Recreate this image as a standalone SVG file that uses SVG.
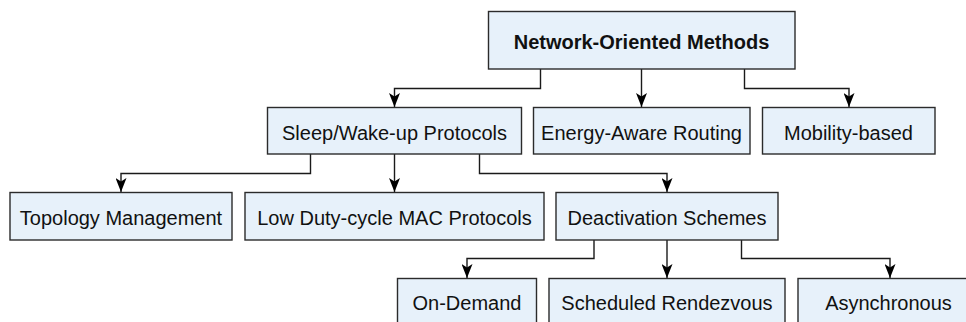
<svg xmlns="http://www.w3.org/2000/svg" width="966" height="322" viewBox="0 0 966 322">
  <defs>
    <style>
      .box { fill: #e7f1fa; stroke: #2b2b2b; stroke-width: 1.4; }
      .lbl { font-family: "Liberation Sans", Arial, sans-serif; font-size: 20px; fill: #111; text-anchor: middle; }
      .title { font-weight: bold; }
      .edge { fill: none; stroke: #1a1a1a; stroke-width: 1.4; marker-end: url(#arrow); }
    </style>
    <marker id="arrow" viewBox="0 0 14 11" refX="14" refY="5.5" markerWidth="14" markerHeight="11" markerUnits="userSpaceOnUse" orient="auto">
      <path d="M0,0 L14,5.5 L0,11 L3.5,5.5 Z" fill="#000"/>
    </marker>
  </defs>
  <rect width="966" height="322" fill="#ffffff"/>

  <!-- connectors -->
  <g id="connectors">
    <path class="edge" d="M540.5,69 V88.5 H394.5 V107"/>
    <path class="edge" d="M641.5,69 V107"/>
    <path class="edge" d="M744.5,69 V88.5 H849 V107"/>
    <path class="edge" d="M310.5,154 V173.5 H121 V192"/>
    <path class="edge" d="M394.5,154 V192"/>
    <path class="edge" d="M479.5,154 V173.5 H667 V192"/>
    <path class="edge" d="M594,240 V258.5 H467 V278"/>
    <path class="edge" d="M667,240 V278"/>
    <path class="edge" d="M741.5,240 V258.5 H890 V278"/>
  </g>

  <!-- level 0 -->
  <g id="network-oriented">
    <rect class="box" x="488.5" y="11.5" width="306.5" height="57.5"/>
    <text class="lbl title" x="641.5" y="48.5">Network-Oriented Methods</text>
  </g>

  <!-- level 1 -->
  <g id="sleep-wakeup">
    <rect class="box" x="267.5" y="107.5" width="254" height="46.5"/>
    <text class="lbl" x="394.5" y="139.5">Sleep/Wake-up Protocols</text>
  </g>
  <g id="energy-aware">
    <rect class="box" x="533.5" y="107.5" width="216.5" height="46.5"/>
    <text class="lbl" x="641.5" y="139.5">Energy-Aware Routing</text>
  </g>
  <g id="mobility">
    <rect class="box" x="762.5" y="107.5" width="172.5" height="46.5"/>
    <text class="lbl" x="848.5" y="139.5">Mobility-based</text>
  </g>

  <!-- level 2 -->
  <g id="topology">
    <rect class="box" x="10" y="192.5" width="222" height="47.5"/>
    <text class="lbl" x="121" y="225">Topology Management</text>
  </g>
  <g id="low-duty">
    <rect class="box" x="245" y="192.5" width="299" height="47.5"/>
    <text class="lbl" x="394.5" y="225">Low Duty-cycle MAC Protocols</text>
  </g>
  <g id="deactivation">
    <rect class="box" x="556" y="192.5" width="222" height="47.5"/>
    <text class="lbl" x="667" y="225">Deactivation Schemes</text>
  </g>

  <!-- level 3 -->
  <g id="on-demand">
    <rect class="box" x="397.5" y="278.5" width="139" height="55"/>
    <text class="lbl" x="467" y="310">On-Demand</text>
  </g>
  <g id="scheduled">
    <rect class="box" x="549" y="278.5" width="236" height="55"/>
    <text class="lbl" x="667" y="310">Scheduled Rendezvous</text>
  </g>
  <g id="asynchronous">
    <rect class="box" x="798" y="278.5" width="180" height="55"/>
    <text class="lbl" x="888.5" y="310">Asynchronous</text>
  </g>
</svg>
